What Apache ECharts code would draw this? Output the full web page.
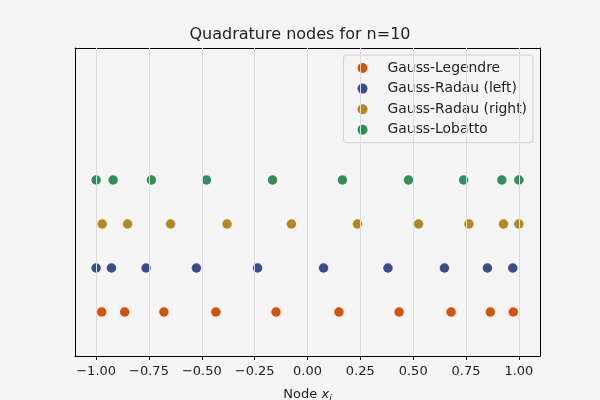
<!DOCTYPE html>
<html>
<head>
<meta charset="utf-8">
<script src="https://cdn.jsdelivr.net/npm/echarts@6/dist/echarts.min.js"></script>
<style>
  html, body { margin: 0; padding: 0; background: #f5f5f5; }
  #chart { width: 600px; height: 400px; }
</style>
</head>
<body>
<div id="chart"></div>
<script>
// nodes for n=10
const legendreNodes = [-0.9739, -0.8651, -0.6794, -0.4334, -0.1489, 0.1489, 0.4334, 0.6794, 0.8651, 0.9739];
const radauLeftNodes = [-1.0, -0.9275, -0.7638, -0.5256, -0.2362, 0.0761, 0.3807, 0.6478, 0.8512, 0.9712];
const radauRightNodes = [-0.9712, -0.8512, -0.6478, -0.3807, -0.0761, 0.2362, 0.5256, 0.7638, 0.9275, 1.0];
const lobattoNodes = [-1.0, -0.9195, -0.7388, -0.4779, -0.1653, 0.1653, 0.4779, 0.7388, 0.9195, 1.0];

const seriesNames = ["Gauss-Legendre", "Gauss-Radau (left)", "Gauss-Radau (right)", "Gauss-Lobatto"];
const seriesNodes = [legendreNodes, radauLeftNodes, radauRightNodes, lobattoNodes];
const seriesLevels = [0, 1, 2, 3];
const xTicks = [-1, -0.75, -0.5, -0.25, 0, 0.25, 0.5, 0.75, 1];
const colors = ["#d95102", "#3a4d8f", "#b38a1a", "#2a9158"];

const font = "DejaVu Sans";

const frameAxis = {
  axisLine: { show: true, onZero: false, lineStyle: { color: "#000", width: 1 } },
  axisTick: { show: false },
  axisLabel: { show: false },
  splitLine: { show: false }
};

const option = {
  backgroundColor: "#f5f5f5",
  animation: false,
  title: {
    text: "Quadrature nodes for n=10",
    left: "center",
    top: 22,
    textStyle: { fontFamily: font, fontSize: 16, fontWeight: "normal", color: "#222" }
  },
  legend: {
    orient: "vertical",
    right: 67,
    top: 55,
    icon: "circle",
    itemWidth: 10,
    itemHeight: 10,
    itemGap: 6.6,
    padding: [6, 6, 6, 14],
    backgroundColor: "#f5f5f5",
    borderColor: "#d0d0d0",
    borderWidth: 1,
    borderRadius: 3,
    textStyle: { fontFamily: font, fontSize: 13.9, color: "#222", padding: [0, 0, 0, 15] },
    data: seriesNames
  },
  grid: { left: 75, right: 60, top: 48, bottom: 44, outerBoundsMode: "none", containLabel: false },
  xAxis: [
    Object.assign({}, frameAxis, {
      type: "value",
      min: -1.1,
      max: 1.1,
      name: "Node {i|x}{s|i}",
      nameLocation: "middle",
      nameGap: 30,
      nameTextStyle: {
        fontFamily: font, fontSize: 13, color: "#222",
        rich: {
          i: { fontFamily: font, fontStyle: "italic", fontSize: 13, color: "#222" },
          s: { fontFamily: font, fontStyle: "italic", fontSize: 9, color: "#222", padding: [8, 0, 0, 0] }
        }
      },
      axisTick: { show: true, length: 4, customValues: xTicks, lineStyle: { color: "#000" } },
      axisLabel: {
        show: true,
        fontFamily: font, fontSize: 13, color: "#222", margin: 9,
        hideOverlap: false,
        customValues: xTicks,
        formatter: v => (v < 0 ? "\u2212" : "") + Math.abs(v).toFixed(2)
      }
    }),
    Object.assign({}, frameAxis, { type: "value", position: "top", min: -1.1, max: 1.1 })
  ],
  yAxis: [
    Object.assign({}, frameAxis, { type: "value", min: -1, max: 6 }),
    Object.assign({}, frameAxis, { type: "value", position: "right", min: -1, max: 6 })
  ],
  series: seriesNames.map((name, k) => ({
    name: name,
    type: "scatter",
    symbolSize: 9.5,
    itemStyle: { color: colors[k], opacity: 1 },
    data: seriesNodes[k].map(x => [x, seriesLevels[k]]),
    z: 3
  })).concat([{
    // vertical grid lines at the tick positions
    type: "scatter",
    data: [],
    silent: true,
    markLine: {
      silent: true,
      symbol: "none",
      label: { show: false },
      lineStyle: { color: "#dcdcdc", type: "solid", width: 1 },
      data: xTicks.map(v => ({ xAxis: v }))
    },
    z: 1
  }])
};

const chart = echarts.init(document.getElementById("chart"));
chart.setOption(option);
</script>
</body>
</html>
